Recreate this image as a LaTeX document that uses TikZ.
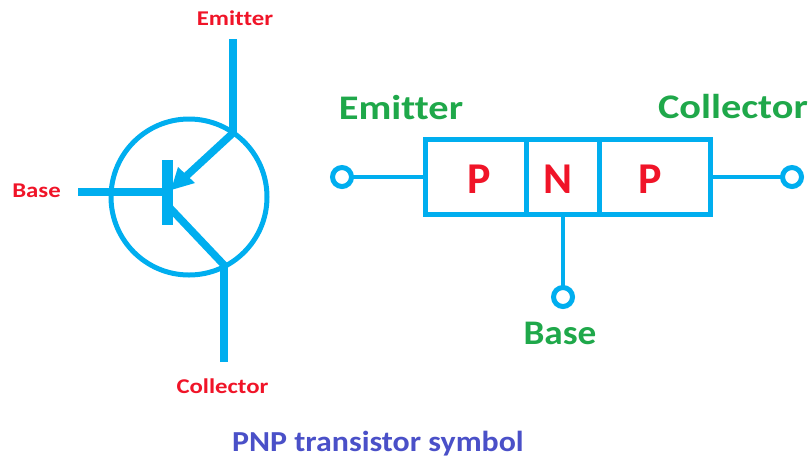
\documentclass[tikz,border=0pt]{standalone}
\usepackage{fontspec}
\setmainfont[Ligatures=NoCommon]{Carlito}
\newfontfamily\redface[FakeStretch=1.18,Ligatures=NoCommon]{Carlito}
\newfontfamily\greenface[FakeStretch=1.17,Ligatures=NoCommon]{Carlito}
\newfontfamily\baseface[FakeStretch=1.08,Ligatures=NoCommon]{Carlito}
\newfontfamily\capface[FakeStretch=1.1,Ligatures=NoCommon]{Carlito}
\definecolor{wire}{HTML}{00AEEF}
\definecolor{redlab}{HTML}{F01428}
\definecolor{greenlab}{HTML}{1FA84A}
\definecolor{caplab}{HTML}{4A50C8}
\tikzset{
  redtext/.style={text=redlab,font=\redface\bfseries\fontsize{21}{24}\selectfont,inner sep=0pt},
  greentext/.style={text=greenlab,font=\greenface\bfseries\fontsize{34.5}{38}\selectfont,inner sep=0pt},
  greenbase/.style={text=greenlab,font=\baseface\bfseries\fontsize{34.5}{38}\selectfont,inner sep=0pt},
  pntext/.style={text=redlab,font=\bfseries\fontsize{44}{46}\selectfont,inner sep=0pt},
  captext/.style={text=caplab,font=\capface\bfseries\fontsize{29}{32}\selectfont,inner sep=0pt},
  thick wire/.style={draw=wire,line width=7.5pt},
  thin wire/.style={draw=wire,line width=4.5pt},
  terminal/.style={circle,draw=wire,fill=white,line width=5pt,minimum size=19pt,inner sep=0pt,outer sep=0pt},
  region/.style={draw=wire,line width=5pt,minimum height=75pt,inner sep=0pt,outer sep=0pt,anchor=north west}
}
\begin{document}
\begin{tikzpicture}[x=1pt,y=-1pt]
\useasboundingbox (0,0) rectangle (810,459);
% symbol
\coordinate (cc) at (189,197);
\draw[draw=wire,line width=5pt] (cc) circle[radius=78];
\coordinate (etop) at (233,39);
\coordinate (ej) at (233,133);
\coordinate (ctip) at (224,362);
\coordinate (cj) at (224,265);
\coordinate (bl) at (78,192);
\coordinate (br) at (165,192);
\coordinate (bart) at (167.5,160);
\coordinate (barb) at (167.5,225);
\coordinate (atip) at (171,190);
\coordinate (cb) at (170,208);
\draw[thick wire] (etop) -- (ej);
\draw[thick wire] (ctip) -- (cj);
\draw[thick wire] (bl) -- (br);
\draw[draw=wire,line width=11pt] (bart) -- (barb);
\draw[thick wire,line cap=round] (ej) -- (182,180);
\fill[wire] (atip) -- (178,167) -- (195,183) -- cycle;
\draw[thick wire,line cap=round] (cb) -- (cj);
\node[redtext] (le) at (235,18) {Emitter};
\node[redtext] (lb) at (36.5,191) {Base};
\node[redtext] (lc) at (222.5,386) {Collector};
% block
\node[region,minimum width=101pt] (rp1) at (425,139) {};
\node[region,minimum width=73pt] (rn) at (526,139) {};
\node[region,minimum width=111pt] (rp2) at (599,139) {};
\node[pntext] (tp1) at (479,179) {P};
\node[pntext] (tn) at (558,179) {N};
\node[pntext] (tp2) at (650,179) {P};
\node[terminal] (te) at (342,177) {};
\node[terminal] (tc) at (792,177) {};
\node[terminal] (tb) at (563,297) {};
\draw[thin wire] (te) -- (te -| rp1.west);
\draw[thin wire] (tc) -- (tc -| rp2.east);
\draw[thin wire] (tb) -- (tb |- rn.south);
\node[greentext] (ge) at (401,108) {Emitter};
\node[greentext] (gc) at (733,107) {Collector};
\node[greenbase] (gb) at (560,333) {Base};
\node[captext] (cap) at (378,444) {PNP transistor symbol};
\end{tikzpicture}
\end{document}
